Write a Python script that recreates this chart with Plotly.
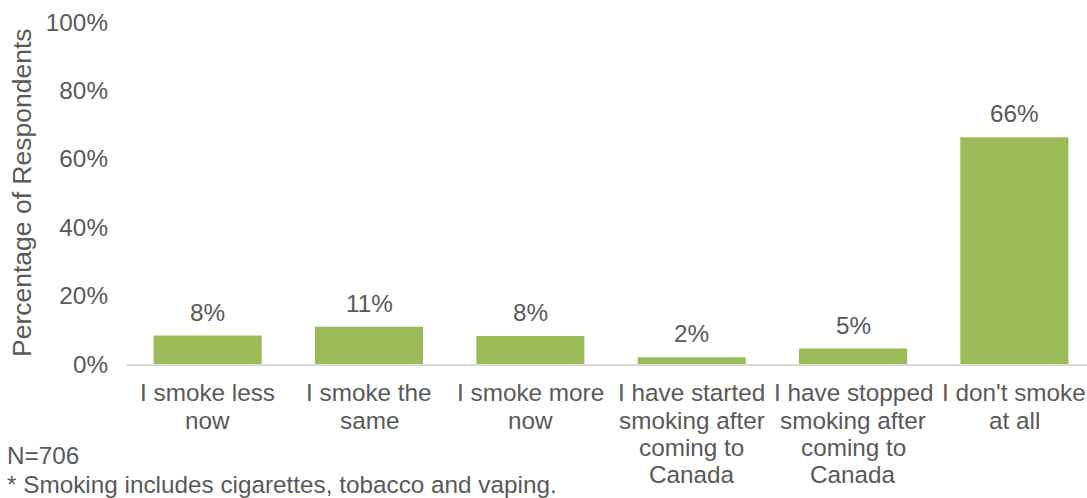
import plotly.graph_objects as go

categories = ["I smoke less<br>now", "I smoke the<br>same", "I smoke more<br>now",
              "I have started<br>smoking after<br>coming to<br>Canada",
              "I have stopped<br>smoking after<br>coming to<br>Canada",
              "I don't smoke<br>at all"]
values = [0.083, 0.109, 0.082, 0.020, 0.045, 0.663]
value_labels = ["8%", "11%", "8%", "2%", "5%", "66%"]
y_ticks = [0, 0.2, 0.4, 0.6, 0.8, 1.0]

FONT = "Liberation Sans, Arial, sans-serif"
GRAY = "#595959"
GREEN = "#9BBB59"
FS = 24.3

W, H = 1087, 498
L, T, B = 127, 21.5, 134
plot_w = W - L
plot_h = H - T - B

fig = go.Figure()
fig.add_trace(go.Bar(x=categories, y=values, marker=dict(color=GREEN, line=dict(width=0)),
                     width=0.67, hoverinfo="skip"))

def py(pix):
    return (H - B - pix) / plot_h

def px(pix):
    return (pix - L) / plot_w

annotations = []
for c, v, t in zip(categories, values, value_labels):
    annotations.append(dict(x=c, y=v, xref="x", yref="y", text=t, showarrow=False,
                            yanchor="bottom", yshift=8,
                            font=dict(family=FONT, size=FS, color=GRAY)))

# category labels, one line per annotation for Excel-like line spacing
for c in categories:
    for i, line in enumerate(c.split("<br>")):
        annotations.append(dict(x=c, y=py(393 + 27.3 * i), xref="x", yref="paper", text=line,
                                showarrow=False, xanchor="center", yanchor="middle",
                                font=dict(family=FONT, size=FS, color=GRAY)))

annotations.append(dict(x=px(22), y=0.5, xref="paper", yref="paper", text="Percentage of Respondents",
                        textangle=-90, showarrow=False, xanchor="center", yanchor="middle",
                        font=dict(family=FONT, size=26.5, color=GRAY)))
annotations.append(dict(x=px(6), y=py(456), xref="paper", yref="paper", text="N=706",
                        showarrow=False, xanchor="left", yanchor="middle", borderpad=0,
                        font=dict(family=FONT, size=FS, color=GRAY)))
annotations.append(dict(x=px(6), y=py(485), xref="paper", yref="paper",
                        text="* Smoking includes cigarettes, tobacco and vaping.",
                        showarrow=False, xanchor="left", yanchor="middle", borderpad=0,
                        font=dict(family=FONT, size=FS, color=GRAY)))

fig.update_layout(
    width=W, height=H,
    margin=dict(l=L, r=0, t=T, b=B, pad=0),
    plot_bgcolor="white", paper_bgcolor="white",
    showlegend=False,
    bargap=0.33,
    annotations=annotations,
    font=dict(family=FONT, size=FS, color=GRAY),
)
fig.update_xaxes(range=[-0.5, 5.45], showline=True, linecolor="#D9D9D9", linewidth=2,
                 showgrid=False, ticks="", showticklabels=False, fixedrange=True)
fig.update_yaxes(range=[0, 1], tickvals=y_ticks, tickformat=".0%", showgrid=False,
                 zeroline=False, showline=False, ticks="", ticklabelstandoff=18,
                 tickfont=dict(family=FONT, size=FS, color=GRAY), fixedrange=True)

fig.write_html("out.html", config={"displayModeBar": False})
